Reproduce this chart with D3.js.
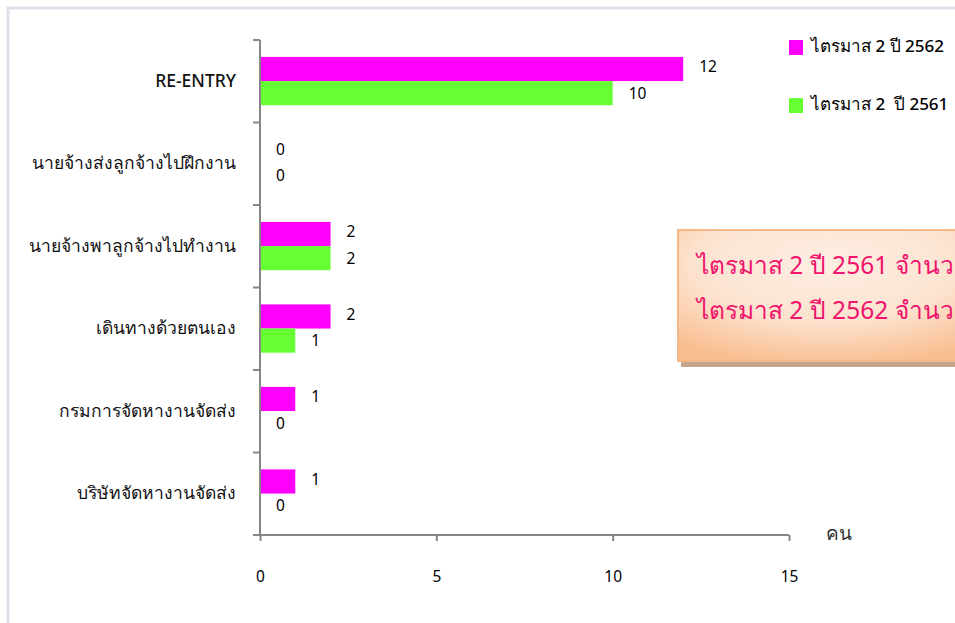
<!DOCTYPE html>
<html>
<head>
<meta charset="utf-8">
<script src="https://cdn.jsdelivr.net/npm/d3@7"></script>
<style>
  body { margin: 0; background: #fff; }
  svg { display: block; font-family: "Noto Sans", "DejaVu Sans", sans-serif; }
</style>
</head>
<body>
<svg></svg>
<script>
// data
const categories = ['RE-ENTRY', 'นายจ้างส่งลูกจ้างไปฝึกงาน', 'นายจ้างพาลูกจ้างไปทำงาน', 'เดินทางด้วยตนเอง', 'กรมการจัดหางานจัดส่ง', 'บริษัทจัดหางานจัดส่ง']
const seriesNames = ['ไตรมาส 2 ปี 2562', 'ไตรมาส 2  ปี 2561']
const values2562 = [12, 0, 2, 2, 1, 1]
const values2561 = [10, 0, 2, 1, 0, 0]
const xTicks = [0, 5, 10, 15]
// the note box runs off the right edge in the original, only this much is visible
const noteLines = ['ไตรมาส 2 ปี 2561 จำนว', 'ไตรมาส 2 ปี 2562 จำนว']

const colors = ['#ff00ff', '#66ff33']

let width = 955
let height = 623
let svg = d3.select('svg').attr('width', width).attr('height', height)

// outer frame
svg.append('path')
    .attr('d', 'M8,' + height + ' L8,8 L' + width + ',8')
    .attr('fill', 'none')
    .attr('stroke', '#e3e0ec')
    .attr('stroke-width', 3)

// scales
let xScale = d3.scaleLinear().domain([0, 15]).range([260, 789])
let yScale = d3.scaleBand().domain(categories).range([40, 535])
let inner = d3.scaleBand().domain(seriesNames)
    .range([yScale.bandwidth() * 0.205, yScale.bandwidth() * 0.79])

let rows = categories.map((c, i) => {
    return { cat: c, vals: [values2562[i], values2561[i]] }
})

// bars
let groups = svg.selectAll('.row')
    .data(rows)
    .enter()
    .append('g')
    .attr('class', 'row')
    .attr('transform', (d) => 'translate(0,' + yScale(d.cat) + ')')

groups.selectAll('rect')
    .data((d) => d.vals.map((v, j) => ({ v: v, s: seriesNames[j], j: j })))
    .enter()
    .append('rect')
    .attr('x', xScale(0))
    .attr('y', (d) => inner(d.s))
    .attr('width', (d) => xScale(d.v) - xScale(0))
    .attr('height', inner.bandwidth())
    .attr('fill', (d) => colors[d.j])

// value labels
groups.selectAll('text.val')
    .data((d) => d.vals.map((v, j) => ({ v: v, s: seriesNames[j], j: j })))
    .enter()
    .append('text')
    .attr('class', 'val')
    .attr('x', (d) => xScale(d.v) + 16)
    .attr('y', (d) => inner(d.s) + inner.bandwidth() / 2 + (d.j == 0 ? -2 : 0))
    .attr('dy', '0.35em')
    .attr('font-size', 15.5)
    .attr('fill', '#000')
    .text((d) => d.v)

// y axis
let yAxis = d3.axisLeft(yScale).tickSize(0).tickPadding(24)
let yg = svg.append('g')
    .attr('transform', 'translate(' + xScale(0) + ',0)')
    .call(yAxis)
    .attr('font-family', null)
    .attr('font-size', null)
yg.select('.domain').remove()
yg.selectAll('text')
    .attr('font-size', 17.5)
    .attr('font-weight', 500)
    .attr('fill', '#111')

// y axis line + ticks at band edges
svg.append('line')
    .attr('x1', xScale(0)).attr('x2', xScale(0))
    .attr('y1', 40).attr('y2', 535)
    .attr('stroke', '#868686').attr('stroke-width', 2)
let edges = categories.map((c) => yScale(c)).concat([535])
svg.selectAll('.ytick')
    .data(edges)
    .enter()
    .append('line')
    .attr('x1', xScale(0) - 7).attr('x2', xScale(0))
    .attr('y1', (d) => d).attr('y2', (d) => d)
    .attr('stroke', '#868686').attr('stroke-width', 2)

// x axis
let xAxis = d3.axisBottom(xScale).tickValues(xTicks).tickSize(6).tickPadding(30)
let xg = svg.append('g')
    .attr('transform', 'translate(0,535)')
    .call(xAxis)
    .attr('font-family', null)
    .attr('font-size', null)
xg.select('.domain').remove()
xg.selectAll('line').attr('stroke', '#868686').attr('stroke-width', 2)
xg.selectAll('text').attr('font-size', 15.5).attr('fill', '#000')
svg.append('line')
    .attr('x1', xScale(0) - 7).attr('x2', xScale(15))
    .attr('y1', 535).attr('y2', 535)
    .attr('stroke', '#868686').attr('stroke-width', 2)

// unit
svg.append('text')
    .attr('x', 826).attr('y', 540)
    .attr('font-size', 19)
    .attr('fill', '#333')
    .text('คน')

// legend
let legend = svg.selectAll('.leg')
    .data(seriesNames)
    .enter()
    .append('g')
    .attr('class', 'leg')
    .attr('transform', (d, i) => 'translate(789,' + (40 + i * 58) + ')')
legend.append('rect')
    .attr('width', 14).attr('height', 15)
    .attr('fill', (d, i) => colors[i])
legend.append('text')
    .attr('x', 22).attr('y', 6)
    .attr('dy', '0.35em')
    .attr('font-size', 17)
    .attr('font-weight', 500)
    .attr('fill', '#000')
    .style('white-space', 'pre')
    .text((d) => d)

// note box
let defs = svg.append('defs')
let grad = defs.append('radialGradient')
    .attr('id', 'boxgrad')
    .attr('cx', '0.5').attr('cy', '0.25').attr('r', '0.8')
grad.append('stop').attr('offset', '0%').attr('stop-color', '#fdeee3')
grad.append('stop').attr('offset', '55%').attr('stop-color', '#fce3d0')
grad.append('stop').attr('offset', '100%').attr('stop-color', '#f9bd8e')

svg.append('rect')
    .attr('x', 681).attr('y', 240)
    .attr('width', 300).attr('height', 127)
    .attr('fill', '#c4a68f')
svg.append('rect')
    .attr('x', 678).attr('y', 230)
    .attr('width', 300).attr('height', 131)
    .attr('fill', 'url(#boxgrad)')
    .attr('stroke', '#f7b887')
    .attr('stroke-width', 2)

svg.selectAll('.note')
    .data(noteLines)
    .enter()
    .append('text')
    .attr('x', 697)
    .attr('y', (d, i) => 265 + i * 45)
    .attr('dy', '0.35em')
    .attr('font-size', 24.5)
    .attr('fill', '#f0146c')
    .text((d) => d)
</script>
</body>
</html>
